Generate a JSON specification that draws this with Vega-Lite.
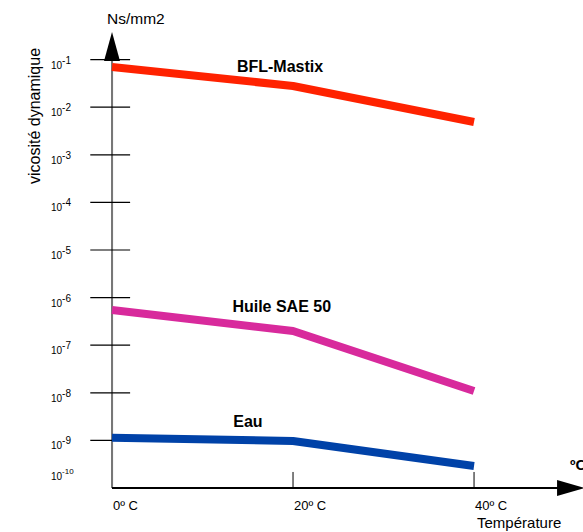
{
  "$schema": "https://vega.github.io/schema/vega-lite/v6.json",
  "width": 583,
  "height": 532,
  "autosize": "none",
  "padding": 0,
  "background": "white",
  "config": {"view": {"stroke": null}, "font": "Liberation Sans"},
  "datasets": {
    "series": [
      {"temp": 0, "visc": 0.0700, "fluid": "BFL-Mastix"},
      {"temp": 20, "visc": 0.0279, "fluid": "BFL-Mastix"},
      {"temp": 40, "visc": 0.00489, "fluid": "BFL-Mastix"},
      {"temp": 0, "visc": 5.48e-7, "fluid": "Huile SAE 50"},
      {"temp": 20, "visc": 1.99e-7, "fluid": "Huile SAE 50"},
      {"temp": 40, "visc": 1.09e-8, "fluid": "Huile SAE 50"},
      {"temp": 0, "visc": 1.14e-9, "fluid": "Eau"},
      {"temp": 20, "visc": 9.7e-10, "fluid": "Eau"},
      {"temp": 40, "visc": 2.9e-10, "fluid": "Eau"}
    ],
    "decades": [
      {"v": 1e-1, "e": "-1"},
      {"v": 1e-2, "e": "-2"},
      {"v": 1e-3, "e": "-3"},
      {"v": 1e-4, "e": "-4"},
      {"v": 1e-5, "e": "-5"},
      {"v": 1e-6, "e": "-6"},
      {"v": 1e-7, "e": "-7"},
      {"v": 1e-8, "e": "-8"},
      {"v": 1e-9, "e": "-9"},
      {"v": 2.25e-10, "e": "-10"}
    ],
    "labels": [
      {"temp": 13.8, "visc": 0.070, "label": "BFL-Mastix"},
      {"temp": 13.3, "visc": 6.35e-7, "label": "Huile SAE 50"},
      {"temp": 13.4, "visc": 2.44e-9, "label": "Eau"}
    ],
    "xlabels": [
      {"temp": 0, "label": "0º C"},
      {"temp": 20, "label": "20º C"},
      {"temp": 40, "label": "40º C"}
    ]
  },
  "data": {"name": "series"},
  "layer": [
    {
      "mark": {"type": "rule", "color": "#777777", "strokeWidth": 2},
      "encoding": {
        "x": {"datum": 0, "type": "quantitative", "scale": {"domain": [-12.376, 52.04], "nice": false, "zero": false}, "axis": null},
        "y": {"datum": 1e-10, "type": "quantitative", "scale": {"type": "log", "domain": [1.19e-11, 1.786], "nice": false}, "axis": null},
        "y2": {"datum": 0.0935}
      }
    },
    {
      "mark": {"type": "rule", "color": "black", "strokeWidth": 1.5},
      "encoding": {
        "x": {"datum": 0, "type": "quantitative"},
        "x2": {"datum": 49.2},
        "y": {"datum": 1e-10, "type": "quantitative"}
      }
    },
    {
      "data": {"values": [{"t": 20}, {"t": 40}]},
      "mark": {"type": "rule", "color": "black", "strokeWidth": 1},
      "encoding": {
        "x": {"field": "t", "type": "quantitative"},
        "y": {"datum": 1e-10, "type": "quantitative"},
        "y2": {"datum": 2.17e-10}
      }
    },
    {
      "data": {"name": "decades"},
      "transform": [{"filter": "datum.e !== '-10'"}],
      "mark": {"type": "rule", "color": "black", "strokeWidth": 1.2},
      "encoding": {
        "x": {"datum": -2.4, "type": "quantitative"},
        "x2": {"datum": 2.0},
        "y": {"field": "v", "type": "quantitative"}
      }
    },
    {
      "mark": {"type": "line", "strokeWidth": 8, "strokeCap": "butt", "strokeJoin": "round"},
      "encoding": {
        "x": {"field": "temp", "type": "quantitative"},
        "y": {"field": "visc", "type": "quantitative"},
        "color": {
          "field": "fluid", "type": "nominal",
          "scale": {"domain": ["BFL-Mastix", "Huile SAE 50", "Eau"], "range": ["#ff2200", "#d82a9c", "#0042a8"]},
          "legend": null
        }
      }
    },
    {
      "data": {"name": "decades"},
      "mark": {"type": "text", "align": "left", "baseline": "middle", "dy": 6, "fontSize": 10, "color": "black"},
      "encoding": {
        "x": {"datum": -6.74, "type": "quantitative"},
        "y": {"field": "v", "type": "quantitative"},
        "text": {"value": "10"}
      }
    },
    {
      "data": {"name": "decades"},
      "mark": {"type": "text", "align": "left", "baseline": "middle", "dy": 1, "color": "black"},
      "encoding": {
        "x": {"datum": -5.52, "type": "quantitative"},
        "y": {"field": "v", "type": "quantitative"},
        "text": {"field": "e"},
        "size": {"condition": {"test": "datum.e === '-10'", "value": 8}, "value": 10}
      }
    },
    {
      "data": {"name": "labels"},
      "mark": {"type": "text", "align": "left", "baseline": "middle", "fontSize": 16, "fontWeight": "bold", "color": "black"},
      "encoding": {
        "x": {"field": "temp", "type": "quantitative"},
        "y": {"field": "visc", "type": "quantitative"},
        "text": {"field": "label"}
      }
    },
    {
      "data": {"name": "xlabels"},
      "mark": {"type": "text", "align": "left", "baseline": "middle", "fontSize": 13, "dx": 1, "color": "black"},
      "encoding": {
        "x": {"field": "temp", "type": "quantitative"},
        "y": {"datum": 4.19e-11, "type": "quantitative"},
        "text": {"field": "label"}
      }
    },
    {
      "data": {"values": [{"t": "Température"}]},
      "mark": {"type": "text", "align": "left", "baseline": "middle", "fontSize": 15, "color": "black"},
      "encoding": {
        "x": {"datum": 40.33, "type": "quantitative"},
        "y": {"datum": 1.84e-11, "type": "quantitative"},
        "text": {"field": "t"}
      }
    },
    {
      "data": {"values": [{"t": "ºC"}]},
      "mark": {"type": "text", "align": "left", "baseline": "middle", "fontSize": 15, "fontWeight": "bold", "color": "black"},
      "encoding": {
        "x": {"datum": 50.6, "type": "quantitative"},
        "y": {"datum": 3.04e-10, "type": "quantitative"},
        "text": {"field": "t"}
      }
    },
    {
      "data": {"values": [{"t": "Ns/mm2"}]},
      "mark": {"type": "text", "align": "left", "baseline": "middle", "fontSize": 15.5, "color": "black"},
      "encoding": {
        "x": {"datum": -0.55, "type": "quantitative"},
        "y": {"datum": 0.713, "type": "quantitative"},
        "text": {"field": "t"}
      }
    },
    {
      "data": {"values": [{"t": "vicosité dynamique"}]},
      "mark": {"type": "text", "align": "center", "baseline": "middle", "fontSize": 16, "angle": 270, "color": "black"},
      "encoding": {
        "x": {"datum": -8.5, "type": "quantitative"},
        "y": {"datum": 0.00653, "type": "quantitative"},
        "text": {"field": "t"}
      }
    },
    {
      "data": {"values": [{"a": "y"}]},
      "mark": {"type": "point", "shape": "M0,-1L0.55,1L-0.55,1Z", "filled": true, "color": "black", "opacity": 1, "size": 841},
      "encoding": {
        "x": {"datum": 0, "type": "quantitative"},
        "y": {"datum": 0.188, "type": "quantitative"}
      }
    },
    {
      "data": {"values": [{"a": "x"}]},
      "mark": {"type": "point", "shape": "M1,0L-1,-0.57L-1,0.57Z", "filled": true, "color": "black", "opacity": 1, "size": 784},
      "encoding": {
        "x": {"datum": 50.72, "type": "quantitative"},
        "y": {"datum": 1e-10, "type": "quantitative"}
      }
    }
  ]
}
